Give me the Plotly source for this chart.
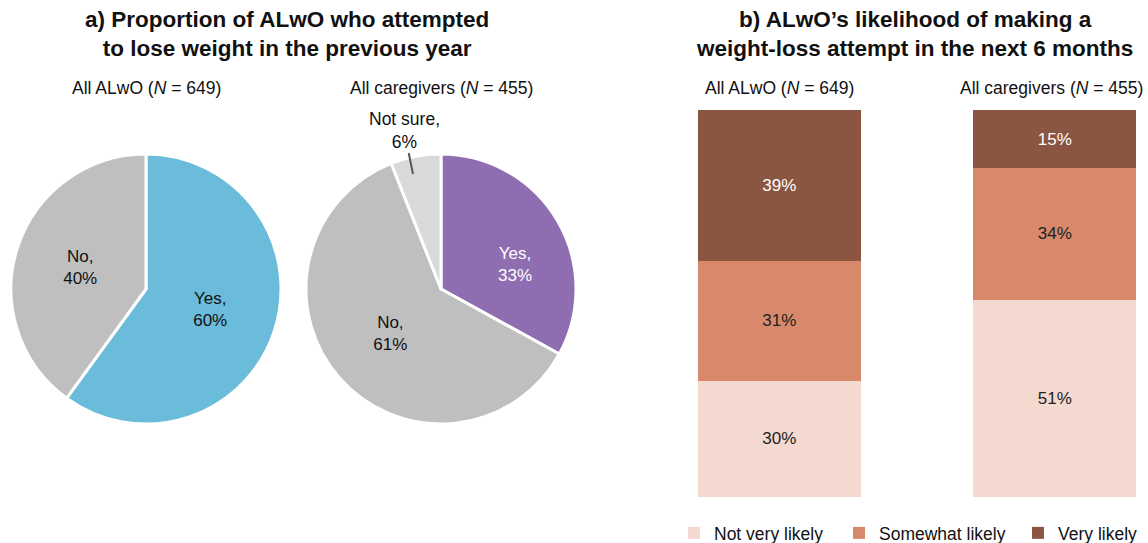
import plotly.graph_objects as go

FONT = "Liberation Sans, Arial, sans-serif"
W, H = 1148, 543

# ---- data ----
pie1_labels = ["Yes", "No"]
pie1_values = [60, 40]
pie1_colors = ["#6BBBDA", "#BFBFBF"]

pie2_labels = ["Yes", "No", "Not sure"]
pie2_values = [33, 61, 6]
pie2_colors = ["#8E6DB0", "#BFBFBF", "#D9D9D9"]

bar_groups = ["All ALwO", "All caregivers"]
bar_ns = [649, 455]
likelihood_cats = ["Not very likely", "Somewhat likely", "Very likely"]
likelihood_vals = {
    "Not very likely": [30, 51],
    "Somewhat likely": [31, 34],
    "Very likely": [39, 15],
}
likelihood_colors = {
    "Not very likely": "#F4D9D0",
    "Somewhat likely": "#D9896B",
    "Very likely": "#8B5641",
}
likelihood_textcolors = {
    "Not very likely": "#222222",
    "Somewhat likely": "#222222",
    "Very likely": "#FFFFFF",
}
pie_ns = [649, 455]

def px_x(p):
    return p / W

def px_y(p):
    return 1 - p / H

LBL = 17
TXT = 17.5
TTL = 22.5

fig = go.Figure()

# ---- pies ----
r = 135
c1 = (146, 289)
c2 = (441, 289)

fig.add_trace(go.Pie(
    labels=pie1_labels, values=pie1_values, sort=False, direction="clockwise", rotation=0,
    marker=dict(colors=pie1_colors, line=dict(color="white", width=3)),
    text=[f"{l},<br>{v}%" for l, v in zip(pie1_labels, pie1_values)],
    texttemplate="%{text}", textposition="inside", insidetextorientation="horizontal",
    textfont=dict(family=FONT, size=LBL, color="#111111"),
    domain=dict(x=[px_x(c1[0] - r), px_x(c1[0] + r)], y=[px_y(c1[1] + r), px_y(c1[1] - r)]),
    showlegend=False, hoverinfo="label+percent",
))

# Yes and Not sure labels of pie 2 are placed as annotations below
pie2_text = [f"{l},<br>{v}%" if l == "No" else "" for l, v in zip(pie2_labels, pie2_values)]
fig.add_trace(go.Pie(
    labels=pie2_labels, values=pie2_values, sort=False, direction="clockwise", rotation=0,
    marker=dict(colors=pie2_colors, line=dict(color="white", width=3)),
    text=pie2_text,
    texttemplate="%{text}", textposition="inside", insidetextorientation="horizontal",
    textfont=dict(family=FONT, size=LBL, color="#111111"),
    domain=dict(x=[px_x(c2[0] - r), px_x(c2[0] + r)], y=[px_y(c2[1] + r), px_y(c2[1] - r)]),
    showlegend=False, hoverinfo="label+percent",
))

# ---- stacked bars ----
legend_ids = ["legend", "legend2", "legend3"]
for cat, lid in zip(likelihood_cats, legend_ids):
    vals = likelihood_vals[cat]
    fig.add_trace(go.Bar(
        x=bar_groups, y=vals, name=cat,
        marker=dict(color=likelihood_colors[cat], line=dict(width=0)),
        text=[f"{v}%" for v in vals], textposition="inside", insidetextanchor="middle",
        textfont=dict(family=FONT, size=LBL, color=likelihood_textcolors[cat]),
        width=0.59, xaxis="x", yaxis="y", legend=lid,
    ))

fig.update_layout(
    width=W, height=H,
    margin=dict(l=0, r=0, t=0, b=0, autoexpand=False),
    paper_bgcolor="white", plot_bgcolor="white",
    barmode="stack",
    font=dict(family=FONT, size=TXT, color="#111111"),
    xaxis=dict(domain=[px_x(698), px_x(1136)], range=[-0.295, 1.295], visible=False, fixedrange=True),
    yaxis=dict(domain=[px_y(497), px_y(110)], range=[0, 100], visible=False, fixedrange=True),
    uniformtext=dict(minsize=LBL, mode="show"),
)
legend_x = [674, 839, 1018]
for lid, lx in zip(legend_ids, legend_x):
    fig.update_layout({lid: dict(
        orientation="h", x=px_x(lx), xanchor="left", y=px_y(533), yanchor="middle",
        font=dict(family=FONT, size=TXT, color="#111111"),
        itemclick=False, itemdoubleclick=False, bgcolor="rgba(0,0,0,0)")})

ann = []
ann.append(dict(text="<b>a) Proportion of ALwO who attempted<br>to lose weight in the previous year</b>",
                x=px_x(287), y=px_y(34), xref="paper", yref="paper", xanchor="center", yanchor="middle",
                showarrow=False, font=dict(family=FONT, size=TTL, color="#111111"), align="center"))
ann.append(dict(text="<b>b) ALwO’s likelihood of making a<br>weight-loss attempt in the next 6 months</b>",
                x=px_x(915), y=px_y(34), xref="paper", yref="paper", xanchor="center", yanchor="middle",
                showarrow=False, font=dict(family=FONT, size=TTL, color="#111111"), align="center"))
for cx, name, n in [(146, "All ALwO", pie_ns[0]), (441, "All caregivers", pie_ns[1])]:
    ann.append(dict(text=f"{name} (<i>N</i> = {n})", x=px_x(cx), y=px_y(88), xref="paper", yref="paper",
                    xanchor="center", yanchor="middle",
                    showarrow=False, font=dict(family=FONT, size=TXT, color="#111111")))
for i, (name, n) in enumerate(zip(bar_groups, bar_ns)):
    ann.append(dict(text=f"{name} (<i>N</i> = {n})", x=i - 0.012 * i, y=px_y(88), xref="x", yref="paper",
                    xanchor="center", yanchor="middle",
                    showarrow=False, font=dict(family=FONT, size=TXT, color="#111111")))
# Pie 2 "Yes" label
ann.append(dict(text=f"{pie2_labels[0]},<br>{pie2_values[0]}%", x=px_x(515), y=px_y(264), xref="paper", yref="paper",
                xanchor="center", yanchor="middle", showarrow=False, align="center",
                font=dict(family=FONT, size=LBL, color="#FFFFFF")))
# Not sure label with leader line
ann.append(dict(text=f"{pie2_labels[2]},<br>{pie2_values[2]}%", x=px_x(413), y=px_y(174), xref="paper", yref="paper",
                ax=-9, ay=-44,
                showarrow=True, arrowhead=0, arrowwidth=2, arrowcolor="#555555", standoff=0,
                font=dict(family=FONT, size=TXT, color="#111111"), align="center", bgcolor="rgba(0,0,0,0)"))
fig.update_layout(annotations=ann)

fig.write_html("out.html", config={"displayModeBar": False},
               post_script="document.body.style.margin='0';document.body.style.overflow='hidden';")
